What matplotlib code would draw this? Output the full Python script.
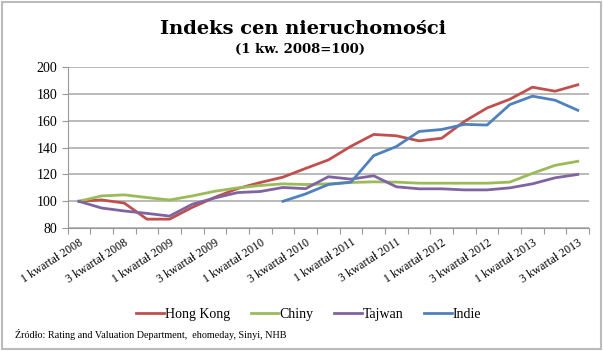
import matplotlib
matplotlib.use('Agg')
import matplotlib.pyplot as plt
from matplotlib.patches import Rectangle
import numpy as np

# Quarters Q1 2008 .. Q3 2013
quarters = [f'{q} kwartał {y}' for y in range(2008, 2014) for q in (1, 2, 3, 4)][:23]

hong_kong = [100, 101, 98.7, 86.7, 86.7, 95.5, 103, 109.5, 114, 118, 124.5, 130.8,
             141, 149.8, 148.8, 145, 147, 159.5, 169.5, 176, 185, 182, 186.8]
chiny = [100, 104, 104.8, 102.8, 101, 104, 107.5, 110, 111.8, 113, 112.5, 113,
         114, 114.5, 114.3, 113.5, 113.5, 113.5, 113.5, 114.3, 120.8, 126.8, 129.8]
tajwan = [100, 95, 92.8, 91, 89, 97.8, 102.5, 106.5, 107.3, 110.3, 109.4, 118.3,
          116.5, 119, 110.8, 109.3, 109.3, 108.5, 108.5, 110, 113, 117.5, 120]
indie = [None] * 9 + [100, 105.5, 112.5, 114.3, 134, 140.8, 152, 153.5, 157.3,
                      156.8, 172, 178.3, 175.3, 167.8]

series = [('Hong Kong', hong_kong, '#C0504D'),
          ('Chiny', chiny, '#9BBB59'),
          ('Tajwan', tajwan, '#8064A2'),
          ('Indie', indie, '#4F81BD')]

serif = ['Liberation Serif', 'DejaVu Serif']

fig = plt.figure(figsize=(6.03, 3.51), dpi=100)
ax = fig.add_axes([0.112, 0.350, 0.865, 0.459])

x = np.arange(len(quarters))
for name, vals, color in series:
    y = np.array([np.nan if v is None else v for v in vals], dtype=float)
    ax.plot(x, y, color=color, lw=2.0, label=name, solid_joinstyle='round')

ax.set_xlim(-0.5, len(quarters) - 0.5)
ax.set_ylim(80, 200)
ax.set_yticks(range(80, 201, 20))
ax.yaxis.grid(True, color='#b4b4b4', lw=1.3)
ax.set_axisbelow(True)

# category boundary ticks, labels every second quarter
ax.set_xticks(np.arange(-0.5, len(quarters), 1.0), minor=False)
ax.set_xticklabels([])
ax.set_xticks(x[::2], minor=True)
ax.set_xticklabels(quarters[::2], minor=True, rotation=33, ha='right',
                   rotation_mode='anchor', family=serif, fontsize=8.5)
ax.tick_params(axis='x', which='minor', length=0, pad=6)
ax.tick_params(axis='x', which='major', length=4, color='#999999', direction='out')
ax.tick_params(axis='y', length=4, color='#999999', labelsize=10)
for lab in ax.get_yticklabels():
    lab.set_family(serif)

for s in ['top', 'right']:
    ax.spines[s].set_visible(False)
ax.spines['left'].set_color('#999999')
ax.spines['bottom'].set_color('#999999')

fig.text(0.502, 0.917, 'Indeks cen nieruchomości', ha='center', va='center',
         fontsize=14, fontweight='bold', family=['DejaVu Serif'])
fig.text(0.497, 0.858, '(1 kw. 2008=100)', ha='center', va='center',
         fontsize=9.5, fontweight='bold', family=['DejaVu Serif'])

fig.legend(loc='center', bbox_to_anchor=(0.512, 0.103), ncol=4, frameon=False,
           prop={'family': serif, 'size': 10}, handlelength=2.0,
           handletextpad=0.05, columnspacing=1.5)

fig.text(0.025, 0.046, 'Źródło: Rating and Valuation Department,  ehomeday, Sinyi, NHB',
         fontsize=7.3, family=serif, va='center')

fig.patches.append(Rectangle((0.004, 0.006), 0.992, 0.988, transform=fig.transFigure,
                             fill=False, edgecolor='#bbbbbb', lw=1.5))

fig.savefig('out.png', dpi=100)
